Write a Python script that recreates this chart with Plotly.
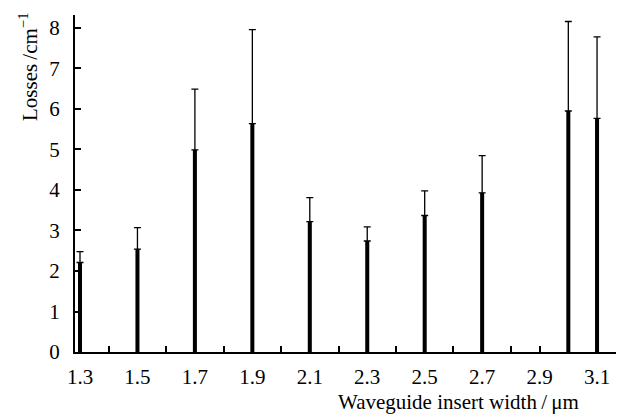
import plotly.graph_objects as go

widths = [1.3, 1.5, 1.7, 1.9, 2.1, 2.3, 2.5, 2.7, 3.0, 3.1]
losses = [2.21, 2.54, 4.99, 5.64, 3.22, 2.74, 3.37, 3.93, 5.95, 5.77]
upper = [2.48, 3.07, 6.49, 7.96, 3.81, 3.09, 3.98, 4.85, 8.16, 7.78]

x_labels = [1.3, 1.5, 1.7, 1.9, 2.1, 2.3, 2.5, 2.7, 2.9, 3.1]
x_minor = [1.4, 1.6, 1.8, 2.0, 2.2, 2.4, 2.6, 2.8, 2.9]
y_ticks = [0, 1, 2, 3, 4, 5, 6, 7, 8]

err_plus = [u - v for u, v in zip(upper, losses)]

FONT = "Liberation Serif"

fig = go.Figure()
fig.add_trace(go.Bar(
    x=widths, y=losses, width=0.014,
    marker=dict(color="black", line=dict(width=0)),
    error_y=dict(type="data", symmetric=False, array=err_plus,
                 arrayminus=[0] * len(losses),
                 color="black", thickness=1.3, width=3.5),
))

fig.update_layout(
    width=633, height=414,
    margin=dict(l=75, r=17, t=15, b=62),
    plot_bgcolor="white", paper_bgcolor="white",
    showlegend=False,
    font=dict(family=FONT, size=21, color="black"),
    xaxis=dict(
        range=[1.2826, 3.166], tickmode="array", tickvals=x_labels,
        ticktext=[f"{v:.1f}" for v in x_labels], ticks="",
        showline=True, linecolor="black", linewidth=2, showgrid=False,
        zeroline=False, ticklabelstandoff=5,
        tickfont=dict(family=FONT, size=21, color="black"),
        minor=dict(tickmode="array", tickvals=x_minor, ticks="inside",
                   ticklen=6, tickwidth=1.5, tickcolor="black", showgrid=False),
    ),
    yaxis=dict(
        range=[0, 8.32], tickmode="array", tickvals=y_ticks,
        ticks="inside", ticklen=6, tickwidth=1.5, tickcolor="black",
        showline=True, linecolor="black", linewidth=2, showgrid=False,
        zeroline=False, ticklabelstandoff=9,
        tickfont=dict(family=FONT, size=21, color="black"),
    ),
    annotations=[
        dict(text="Waveguide insert width\u2009/\u2009\u03bcm", xref="paper", yref="paper",
             x=(581 - 75) / 541, y=-(402 - 352) / 337, xanchor="right", yanchor="middle",
             showarrow=False, font=dict(family=FONT, size=21)),
        dict(text="Losses\u2009/cm<sup>\u22121</sup>", xref="paper", yref="paper",
             x=-(75 - 28) / 541, y=(352 - 67) / 337, xanchor="center", yanchor="middle",
             textangle=-90, showarrow=False, font=dict(family=FONT, size=21)),
    ],
)

fig.write_html("out.html")
